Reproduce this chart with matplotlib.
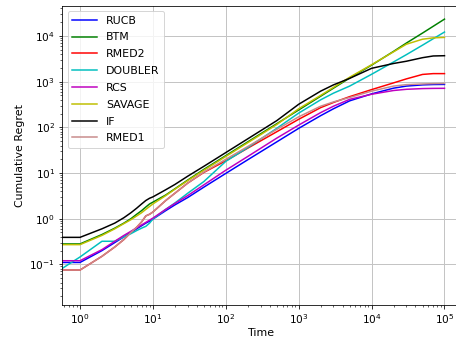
import numpy as np
import matplotlib
matplotlib.use("Agg")
import matplotlib.pyplot as plt

time = [0.56, 1, 2, 3, 4, 5, 6, 7, 8, 9, 10, 15, 20, 30, 50, 100, 200, 500,
        1000, 2000, 3000, 5000, 1e4, 2e4, 3e4, 5e4, 7e4, 1e5]

rucb = [0.11, 0.11, 0.2, 0.3, 0.4, 0.5, 0.6, 0.7, 0.8, 0.88, 0.98, 1.5, 2.0, 2.9, 4.9, 9.8, 19.5, 48,
        95, 180, 255, 380, 540, 720, 800, 850, 865, 870]
btm = [0.28, 0.28, 0.45, 0.62, 0.8, 1.0, 1.25, 1.5, 1.8, 2.1, 2.3, 3.3, 4.5, 7, 12, 24, 48, 120,
       240, 480, 720, 1200, 2300, 4600, 7000, 11600, 16300, 23400]
rmed2 = [0.075, 0.075, 0.15, 0.24, 0.35, 0.5, 0.65, 0.85, 1.15, 1.25, 1.4, 2.5, 3.6, 6, 10.3, 18.5, 35, 80,
         150, 270, 350, 470, 670, 940, 1150, 1440, 1500, 1500]
doubler = [0.08, 0.145, 0.32, 0.32, 0.4, 0.47, 0.55, 0.62, 0.68, 0.8, 0.98, 1.6, 2.2, 3.6, 6.5, 18, 36, 95,
           205, 400, 560, 800, 1450, 2700, 3900, 6300, 8700, 12200]
rcs = [0.12, 0.12, 0.21, 0.32, 0.43, 0.53, 0.63, 0.73, 0.83, 0.93, 1.03, 1.6, 2.15, 3.2, 5.5, 11.5, 23, 58,
       112, 210, 290, 410, 530, 640, 680, 705, 712, 715]
savage = [0.27, 0.27, 0.43, 0.6, 0.78, 0.95, 1.15, 1.35, 1.6, 1.85, 2.1, 3.2, 4.4, 6.8, 11.5, 23, 46, 115,
          255, 500, 750, 1250, 2350, 4500, 6600, 8500, 9100, 9300]
if_alg = [0.39, 0.39, 0.6, 0.8, 1.05, 1.35, 1.7, 2.1, 2.5, 2.8, 3.0, 4.3, 5.6, 8.5, 14, 28, 56, 140,
          320, 620, 850, 1180, 1960, 2500, 2800, 3350, 3650, 3700]
rmed1 = [0.075, 0.075, 0.15, 0.24, 0.35, 0.5, 0.65, 0.85, 1.15, 1.25, 1.4, 2.5, 3.6, 6, 10.5, 20, 38, 90,
         170, 290, 360, 450, 620, 800, 860, 890, 905, 915]

labels = ["RUCB", "BTM", "RMED2", "DOUBLER", "RCS", "SAVAGE", "IF", "RMED1"]
series = [rucb, btm, rmed2, doubler, rcs, savage, if_alg, rmed1]
colors = ["#0000ff", "#008000", "#ff0000", "#00bfbf", "#bf00bf", "#bfbf00", "#000000", "#c88a8a"]

fig = plt.figure(figsize=(456 / 72, 344 / 72), dpi=72)
ax = fig.add_axes([62 / 456, 39 / 344, 400 / 456, 299.3 / 344])
for lab, ys, c in zip(labels, series, colors):
    ax.plot(time, ys, color=c, lw=1.5, label=lab)
ax.set_xscale("log")
ax.set_yscale("log")
# x: 10^0 at px 80, decade 72.9 px; axes from px 62 to 462
ax.set_xlim(10 ** (-18 / 72.9), 10 ** ((462 - 80) / 72.9))
ax.set_ylim(10 ** (-1.89), 10 ** 4.663)
ax.grid(True, which="major", color="#c4c4c4", lw=1.0)
ax.set_axisbelow(True)
ax.spines["right"].set_visible(False)
ax.set_xlabel("Time", fontsize=11, labelpad=2)
ax.set_ylabel("Cumulative Regret", fontsize=11)
ax.tick_params(labelsize=10.5)
ax.legend(loc="upper left", fontsize=11, labelspacing=0.62, handlelength=2.3)
fig.savefig("out.png", dpi=72)
